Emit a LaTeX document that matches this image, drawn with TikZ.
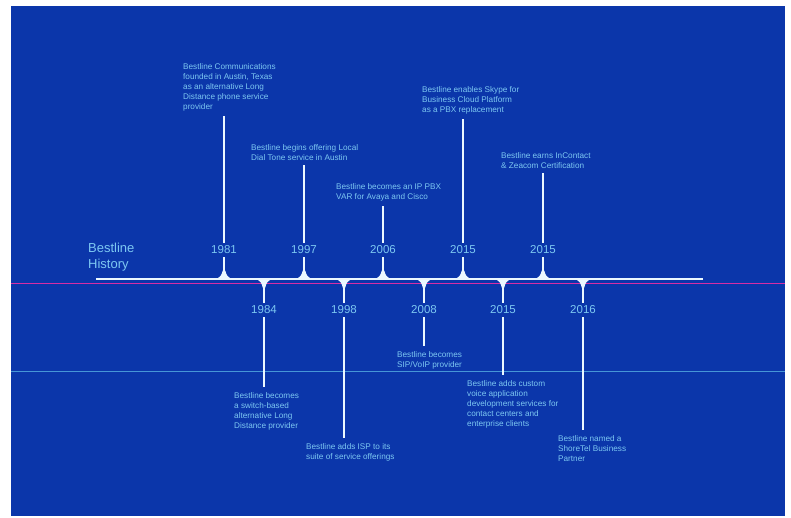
\documentclass[tikz,border=0pt]{standalone}
\usepackage{fontspec}
\setmainfont{Liberation Sans}
\definecolor{bgblue}{RGB}{11,54,170}
\definecolor{txtcyan}{RGB}{125,200,242}
\definecolor{linewhite}{RGB}{235,248,255}
\definecolor{bandpink}{RGB}{215,45,165}
\definecolor{bandcyan}{RGB}{70,150,215}
\tikzset{
  evtext/.style={inner sep=0pt, align=left, text=txtcyan, font=\fontsize{8.2}{10}\selectfont},
  year/.style={inner sep=0pt, outer sep=3pt, text=txtcyan, font=\fontsize{11.5}{12}\selectfont},
  stub/.style={draw=linewhite, line width=2pt},
  stem/.style={draw=linewhite, line width=2pt, shorten >=5pt},
}
\newcommand{\tickup}[1]{\fill[linewhite, shift={(#1)}] (-7,0) .. controls (-4,-1.5) and (-2,-4.5) .. (-1.3,-8.5) -- (1.3,-8.5) .. controls (2,-4.5) and (4,-1.5) .. (7,0) -- cycle;}
\newcommand{\tickdown}[1]{\fill[linewhite, shift={(#1)}] (-7,0) .. controls (-4,1.5) and (-2,4.5) .. (-1.3,8.5) -- (1.3,8.5) .. controls (2,4.5) and (4,1.5) .. (7,0) -- cycle;}

\begin{document}
\begin{tikzpicture}[x=1pt,y=-1pt]
\fill[white] (0,0) rectangle (791,517);
\fill[bgblue] (11,6) rectangle (785,516);
\draw[bandpink, line width=1.3pt] (11,283.5) -- (785,283.5);
\draw[bandcyan, line width=0.6pt] (11,371) -- (785,371);

% the time line
\coordinate (lstart) at (96,279);
\coordinate (lend) at (703,279);
\draw[linewhite, line width=1.4pt] (lstart) -- (lend);
\node[anchor=north west, inner sep=0pt, align=left, text=txtcyan, font=\fontsize{13}{16}\selectfont] (title) at (88,243) {Bestline\\History};

% above the line
\coordinate (k1981) at (224,279);
\coordinate (k1997) at (304,279);
\coordinate (k2006) at (383,279);
\coordinate (k2015s) at (463,279);
\coordinate (k2015i) at (543,279);
\node[year] (y1981) at (224,250) {1981};
\node[year] (y1997) at (304,250) {1997};
\node[year] (y2006) at (383,250) {2006};
\node[year] (y2015s) at (463,250) {2015};
\node[year] (y2015i) at (543,250) {2015};
\node[evtext, anchor=north west] (t1981) at (183,63) {Bestline Communications\\founded in Austin, Texas\\as an alternative Long\\Distance phone service\\provider};
\node[evtext, anchor=north west] (t1997) at (251,144) {Bestline begins offering Local\\Dial Tone service in Austin};
\node[evtext, anchor=north west] (t2006) at (336,183) {Bestline becomes an IP PBX\\VAR for Avaya and Cisco};
\node[evtext, anchor=north west] (t2015s) at (422,86) {Bestline enables Skype for\\Business Cloud Platform\\as a PBX replacement};
\node[evtext, anchor=north west] (t2015i) at (501,152) {Bestline earns InContact\\\& Zeacom Certification};
\draw[stub] (k1981) -- (y1981);
\draw[stub] (k1997) -- (y1997);
\draw[stub] (k2006) -- (y2006);
\draw[stub] (k2015s) -- (y2015s);
\draw[stub] (k2015i) -- (y2015i);
\draw[stem] (y1981) -- (y1981 |- t1981.south);
\draw[stem] (y1997) -- (y1997 |- t1997.south);
\draw[stem] (y2006) -- (y2006 |- t2006.south);
\draw[stem] (y2015s) -- (y2015s |- t2015s.south);
\draw[stem] (y2015i) -- (y2015i |- t2015i.south);
\tickup{k1981} \tickup{k1997} \tickup{k2006} \tickup{k2015s} \tickup{k2015i}

% below the line
\coordinate (k1984) at (264,279);
\coordinate (k1998) at (344,279);
\coordinate (k2008) at (424,279);
\coordinate (k2015c) at (503,279);
\coordinate (k2016) at (583,279);
\node[year] (y1984) at (264,310) {1984};
\node[year] (y1998) at (344,310) {1998};
\node[year] (y2008) at (424,310) {2008};
\node[year] (y2015c) at (503,310) {2015};
\node[year] (y2016) at (583,310) {2016};
\node[evtext, anchor=north west] (t1984) at (234,392) {Bestline becomes\\a switch-based\\alternative Long\\Distance provider};
\node[evtext, anchor=north west] (t1998) at (306,443) {Bestline adds ISP to its\\suite of service offerings};
\node[evtext, anchor=north west] (t2008) at (397,351) {Bestline becomes\\SIP/VoIP provider};
\node[evtext, anchor=north west] (t2015c) at (467,380) {Bestline adds custom\\voice application\\development services for\\contact centers and\\enterprise clients};
\node[evtext, anchor=north west] (t2016) at (558,435) {Bestline named a\\ShoreTel Business\\Partner};
\draw[stub] (k1984) -- (y1984);
\draw[stub] (k1998) -- (y1998);
\draw[stub] (k2008) -- (y2008);
\draw[stub] (k2015c) -- (y2015c);
\draw[stub] (k2016) -- (y2016);
\draw[stem] (y1984) -- (y1984 |- t1984.north);
\draw[stem] (y1998) -- (y1998 |- t1998.north);
\draw[stem] (y2008) -- (y2008 |- t2008.north);
\draw[stem] (y2015c) -- (y2015c |- t2015c.north);
\draw[stem] (y2016) -- (y2016 |- t2016.north);
\tickdown{k1984} \tickdown{k1998} \tickdown{k2008} \tickdown{k2015c} \tickdown{k2016}
\end{tikzpicture}
\end{document}
